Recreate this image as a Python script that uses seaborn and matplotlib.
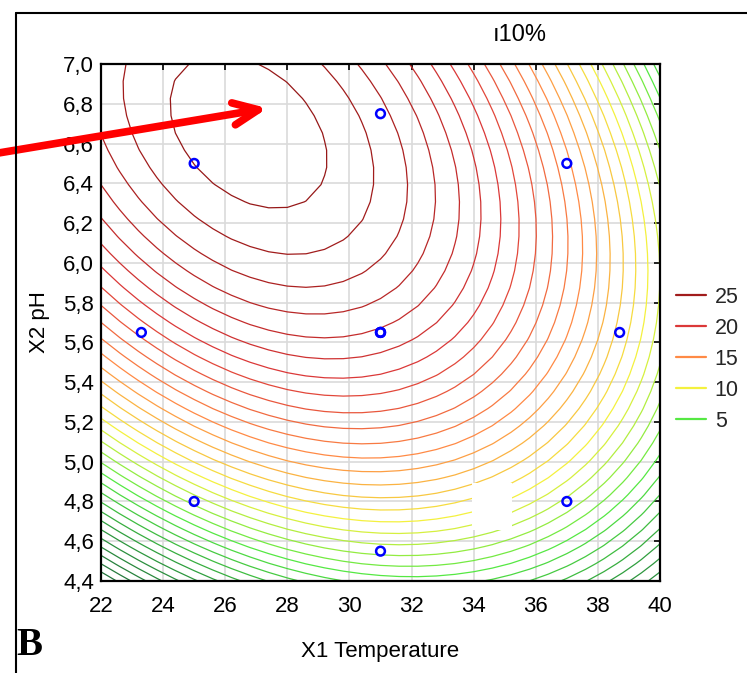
import numpy as np
import matplotlib
matplotlib.use("Agg")
import matplotlib.pyplot as plt
import seaborn as sns
import pandas as pd
from matplotlib import font_manager
from matplotlib.colors import LinearSegmentedColormap, Normalize
from matplotlib.lines import Line2D
from matplotlib.patches import Rectangle

# ---- experimental design points (central composite design) ----
temp_pts = [25, 37, 25, 37, 23.3, 38.7, 31, 31, 31, 31, 31]
ph_pts = [4.8, 4.8, 6.5, 6.5, 5.65, 5.65, 4.55, 6.75, 5.65, 5.65, 5.65]

# ---- fitted quadratic response surface (canonical form) ----
z_max = 26.65      # value at the optimum
t_opt = 26.75      # optimum temperature
ph_opt = 6.66      # optimum pH
coef_tt = 0.1155   # curvature in temperature
coef_tph = 0.272   # interaction
coef_phph = 4.96   # curvature in pH

# ---- axes ----
x_ticks = [22, 24, 26, 28, 30, 32, 34, 36, 38, 40]
y_ticks = [4.4, 4.6, 4.8, 5.0, 5.2, 5.4, 5.6, 5.8, 6.0, 6.2, 6.4, 6.6, 6.8, 7.0]
y_tick_labels = ["4,4", "4,6", "4,8", "5,0", "5,2", "5,4", "5,6", "5,8",
                 "6,0", "6,2", "6,4", "6,6", "6,8", "7,0"]
contour_levels = list(range(-10, 27))
legend_levels = [25, 20, 15, 10, 5]

# colour ramp of the contour levels
ramp_values = [-9, 0, 5, 10, 15, 20, 25, 27]
ramp_colors = ["#1d5e3c", "#2f9e3e", "#55e843", "#f4f23e",
               "#ff8a45", "#dc3838", "#a11c1c", "#8c1414"]

sns.set_theme(style="white")
available = {f.name for f in font_manager.fontManager.ttflist}
if "Liberation Sans Narrow" in available:
    plt.rcParams["font.family"] = ["Liberation Sans Narrow", "DejaVu Sans"]
    fs_tick, fs_lab, fs_leg = 18, 19, 18
else:
    plt.rcParams["font.family"] = ["Liberation Sans", "DejaVu Sans"]
    fs_tick, fs_lab, fs_leg = 16, 16, 15.5

fig = plt.figure(figsize=(7.47, 6.73), dpi=100)
ax = fig.add_axes([101 / 747, 1 - 581 / 673, 559 / 747, 517 / 673])

# surface grid
tg = np.linspace(22, 40, 31)
pg = np.linspace(4.4, 7.0, 31)
T, P = np.meshgrid(tg, pg)
U = T - t_opt
V = P - ph_opt
Z = z_max - (coef_tt * U ** 2 + 2 * coef_tph * U * V + coef_phph * V ** 2)

vmin, vmax = ramp_values[0], ramp_values[-1]
pos = [(v - vmin) / (vmax - vmin) for v in ramp_values]
cmap = LinearSegmentedColormap.from_list("stat", list(zip(pos, ramp_colors)))
norm = Normalize(vmin, vmax)
level_colors = [cmap(norm(l)) for l in contour_levels]

ax.contour(T, P, Z, levels=contour_levels, colors=level_colors,
           linewidths=0.9, zorder=2)

# blank patch present in the original
ax.add_patch(Rectangle((33.95, 4.656), 1.28, 0.237, facecolor="white",
                       edgecolor="none", zorder=3))

df = pd.DataFrame({"T": temp_pts, "pH": ph_pts})
sns.scatterplot(data=df, x="T", y="pH", ax=ax, marker="o", s=40,
                facecolor="none", edgecolor="#0000ff", linewidth=1.8,
                zorder=5, legend=False)

ax.set_xlim(22, 40)
ax.set_ylim(4.4, 7.0)
ax.set_xticks(x_ticks)
ax.set_xticklabels([str(x) for x in x_ticks])
ax.set_yticks(y_ticks)
ax.set_yticklabels(y_tick_labels)
ax.grid(True, color="#dadada", linewidth=1.2)
ax.set_axisbelow(True)
for s in ax.spines.values():
    s.set_color("black")
    s.set_linewidth(1.6)
ax.tick_params(direction="in", top=True, right=True, length=4, width=1.2,
               labelsize=fs_tick, colors="black")
ax.tick_params(axis="x", pad=11)
ax.tick_params(axis="y", pad=5)
ax.set_xlabel("X1 Temperature", fontsize=fs_lab, color="black")
ax.set_ylabel("X2 pH", fontsize=fs_lab, color="black")
ax.xaxis.set_label_coords(0.5, -0.117)
ax.yaxis.set_label_coords(-0.091, 0.5)

# legend
handles = [Line2D([0], [0], color=cmap(norm(l)), lw=1.6) for l in legend_levels]
fig.legend(handles, [str(l) for l in legend_levels], loc="upper left",
           bbox_to_anchor=(676 / 747, 1 - 287 / 673), frameon=False,
           fontsize=fs_leg, handlelength=1.4, handletextpad=0.4,
           labelspacing=0.46, borderaxespad=0, borderpad=0)

# title fragment
fig.text(520 / 747, 1 - 35 / 673, "ı10%", ha="center", va="center",
         fontsize=17, color="black")

# red arrow
ax.annotate("", xy=(27.45, 6.78), xycoords="data",
            xytext=(-0.01, 1 - 154 / 673), textcoords="figure fraction",
            arrowprops=dict(arrowstyle="->,head_length=0.9,head_width=0.4",
                            mutation_scale=20, color="#ff0000", lw=5.5),
            annotation_clip=False, zorder=6)

# panel letter and frame
fig.text(16 / 747, 1 - 655 / 673, "B", family=["Liberation Serif", "DejaVu Serif"],
         weight="bold", fontsize=28, color="black", va="baseline")
fig.add_artist(Line2D([16 / 747, 16 / 747], [0, 1 - 13 / 673],
                      transform=fig.transFigure, color="black", lw=1.5))
fig.add_artist(Line2D([16 / 747, 1], [1 - 13 / 673, 1 - 13 / 673],
                      transform=fig.transFigure, color="black", lw=1.5))

fig.savefig("out.png", dpi=100)
